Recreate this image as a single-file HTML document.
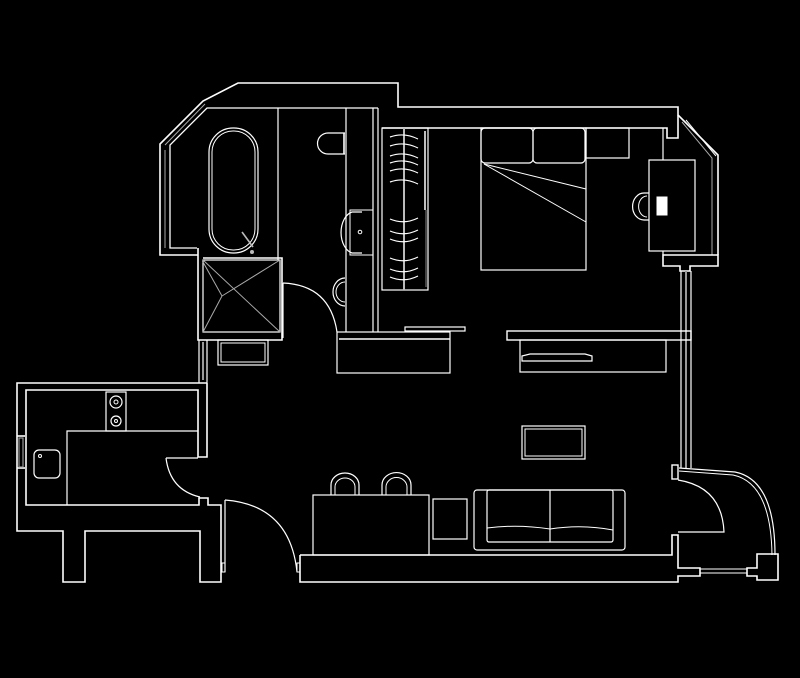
<!DOCTYPE html>
<html><head><meta charset="utf-8"><style>
html,body{margin:0;padding:0;background:#000;}
svg{display:block}
</style></head><body>
<svg width="800" height="678" viewBox="0 0 800 678" xmlns="http://www.w3.org/2000/svg" fill="none" stroke="#fff" stroke-width="1.6">
<rect width="800" height="678" fill="#000" stroke="none"/>
<!-- top outer wall -->
<polyline points="198,255 160,255 160,144 203,101 238,83 398,83 398,107 678,107 678,115 718,155 718,255"/>
<polyline points="197,248 170,248 170,145 207,108 378,108" stroke-width="1.3"/>
<polyline points="165,145 205,104" stroke="#aaa" stroke-width="1"/>
<line x1="165" y1="150" x2="165" y2="248" stroke="#aaa" stroke-width="1"/>
<polyline points="382,128 667,128 667,138 678,138 678,115"/>
<polyline points="682,122 712,158 712,255" stroke="#aaa" stroke-width="1"/>
<polyline points="686,120 716,156" stroke-width="1"/>
<!-- window ledge right -->
<polygon points="663,255 718,255 718,266 690,266 690,271 680,271 680,266 663,266"/>
<!-- right wall vertical -->
<line x1="681" y1="271" x2="681" y2="468" stroke-width="1.2"/>
<line x1="691" y1="271" x2="691" y2="468" stroke-width="1.2"/>
<line x1="686" y1="271" x2="686" y2="468" stroke="#999" stroke-width="2"/>
<!-- tub -->
<rect x="209" y="128" width="49" height="125" rx="24" stroke-width="1.2"/>
<rect x="212" y="131" width="43" height="119" rx="21" stroke-width="1"/>
<line x1="242" y1="232" x2="253" y2="247" stroke="#bbb"/>
<circle cx="252" cy="252" r="2" fill="#bbb" stroke="none"/>
<line x1="278" y1="108" x2="278" y2="260" stroke-width="1.2"/>
<!-- shower -->
<polyline points="198,248 198,340 282,340 282,258 203,258"/>
<rect x="203" y="260" width="77" height="72" stroke-width="1.2"/>
<line x1="203" y1="260" x2="280" y2="332" stroke="#aaa" stroke-width="1"/>
<line x1="222" y1="296" x2="280" y2="260" stroke="#aaa" stroke-width="1"/>
<line x1="222" y1="296" x2="203" y2="332" stroke="#aaa" stroke-width="1"/>
<line x1="222" y1="296" x2="203" y2="262" stroke="#aaa" stroke-width="1"/>
<!-- box under shower -->
<rect x="218" y="340" width="50" height="25" stroke-width="1.2"/>
<rect x="221" y="343" width="44" height="19" stroke-width="1"/>
<line x1="199" y1="340" x2="199" y2="383" stroke-width="1.2"/>
<line x1="207" y1="340" x2="207" y2="383" stroke-width="1.2"/>
<line x1="203" y1="342" x2="203" y2="380" stroke="#999" stroke-width="2"/>
<!-- bathroom door -->
<line x1="283" y1="283" x2="283" y2="338" stroke-width="1.2"/>
<path d="M283,283 Q330,285 337,332" stroke-width="1.2"/>
<!-- wc wall -->
<line x1="346" y1="108" x2="346" y2="332" stroke-width="1.2"/>
<line x1="373" y1="108" x2="373" y2="332" stroke-width="1.2"/>
<line x1="378" y1="108" x2="378" y2="332" stroke-width="1.2"/>
<path d="M345,133 L328,133 A10,10 0 0 0 328,154 L345,154" stroke-width="1.2"/>
<line x1="344" y1="133" x2="344" y2="154"/>
<rect x="350" y="210" width="23" height="45" stroke-width="1"/>
<path d="M362,212 L352,212 A14,21 0 0 0 352,253 L362,253" stroke-width="1.2"/>
<circle cx="360" cy="232" r="1.8" stroke-width="1"/>
<path d="M345,278 A12,14 0 0 0 345,306" stroke-width="1.2"/>
<path d="M345,282 A9,10 0 0 0 345,302" stroke-width="1"/>
<!-- wardrobe -->
<rect x="382" y="128" width="46" height="162" stroke-width="1.2"/>
<line x1="404" y1="128" x2="404" y2="290" stroke="#bbb" stroke-width="2"/>
<line x1="425" y1="131" x2="425" y2="210" stroke-width="1.5"/>
<line x1="426" y1="210" x2="426" y2="287" stroke="#888" stroke-width="1"/>
<g stroke-width="1.2">
<path d="M390,137 Q404,132 418,139"/><path d="M390,146 Q404,141 418,148"/>
<path d="M390,156 Q404,151 418,158"/><path d="M390,163 Q404,158 418,165"/>
<path d="M390,171 Q404,166 418,173"/><path d="M390,182 Q404,177 418,184"/>
<path d="M390,219 Q404,225 418,218"/><path d="M390,231 Q404,237 418,230"/>
<path d="M390,239 Q404,245 418,238"/><path d="M390,258 Q404,264 418,257"/>
<path d="M390,269 Q404,275 418,268"/><path d="M390,277 Q404,283 418,276"/>
</g>
<!-- counter -->
<rect x="337" y="332" width="113" height="41" stroke-width="1.2"/>
<line x1="339" y1="339" x2="450" y2="339" stroke-width="1.4"/>
<rect x="405" y="327" width="60" height="4" stroke-width="1.2"/>
<!-- bed -->
<rect x="481" y="128" width="105" height="142" stroke-width="1.2"/>
<rect x="481" y="128" width="52" height="35" rx="4" stroke-width="1.2"/>
<rect x="533" y="128" width="52" height="35" rx="4" stroke-width="1.2"/>
<rect x="586" y="128" width="43" height="30" stroke-width="1.2"/>
<line x1="484" y1="164" x2="586" y2="189" stroke-width="1"/>
<line x1="484" y1="164" x2="586" y2="222" stroke-width="1"/>
<line x1="663" y1="128" x2="663" y2="160" stroke-width="1.2"/>
<!-- desk -->
<rect x="649" y="160" width="46" height="91" stroke-width="1.2"/>
<path d="M649,193 L644,193 A11,13 0 0 0 644,220 L649,220" stroke-width="1.2"/>
<path d="M647,196 A8,10 0 0 0 647,217" stroke-width="1"/>
<rect x="657" y="197" width="10" height="18" fill="#fff" stroke-width="1"/>
<line x1="663" y1="251" x2="663" y2="255" stroke-width="1.2"/>
<!-- tv console -->
<rect x="507" y="331" width="184" height="9" stroke-width="1.4"/>
<rect x="520" y="340" width="146" height="32" stroke-width="1.2"/>
<path d="M522,361 L592,361 L592,356 L585,354 L530,354 L522,356 Z" stroke-width="1.2"/>
<!-- TV / rug -->
<rect x="522" y="426" width="63" height="33" stroke-width="1.2"/>
<rect x="525" y="429" width="57" height="27" stroke-width="1"/>
<!-- kitchen -->
<polyline points="207,383 17,383 17,531 63,531 63,582 85,582 85,531 200,531 200,582 221,582 221,505 208,505 208,498 199,498 199,505 26,505 26,390 198,390 198,457 207,457 207,383"/>
<line x1="17" y1="436" x2="25" y2="436"/><line x1="17" y1="468" x2="25" y2="468"/>
<rect x="19" y="438" width="4" height="29" stroke="#999" stroke-width="1.2"/>
<polyline points="67,505 67,431 198,431" stroke-width="1.2"/>
<rect x="106" y="392" width="20" height="39" stroke-width="1.2"/>
<circle cx="116" cy="402" r="6" stroke-width="1.2"/><circle cx="116" cy="402" r="2" stroke-width="1"/>
<circle cx="116" cy="421" r="5" stroke-width="1.2"/><circle cx="116" cy="421" r="1.5" stroke-width="1"/>
<rect x="34" y="450" width="26" height="28" rx="5" stroke-width="1.2"/>
<circle cx="40" cy="456" r="1.5" stroke-width="1"/>
<!-- kitchen door -->
<line x1="166" y1="458" x2="198" y2="458" stroke-width="1.2"/>
<path d="M166,458 Q170,490 200,497" stroke-width="1.2"/>
<!-- entry door -->
<line x1="225" y1="500" x2="225" y2="572" stroke-width="1.2"/>
<path d="M225,500 Q290,505 297,572" stroke-width="1.2"/>
<rect x="222" y="563" width="3" height="9" stroke-width="1"/>
<rect x="297" y="563" width="3" height="9" stroke-width="1"/>
<!-- bottom wall -->
<polyline points="300,555 672,555 672,535 678,535 678,568 700,568 700,576 678,576 678,582 300,582 300,555"/>
<!-- dining -->
<rect x="313" y="495" width="116" height="60" stroke-width="1.2"/>
<path d="M331,495 L331,485 A14,12 0 0 1 359,485 L359,495" stroke-width="1.2"/>
<path d="M335,495 L335,487 A10,9 0 0 1 355,487 L355,495" stroke-width="1"/>
<path d="M382,495 L382,485 A14,12 0 0 1 411,485 L411,495" stroke-width="1.2"/>
<path d="M386,495 L386,487 A10,9 0 0 1 407,487 L407,495" stroke-width="1"/>
<rect x="433" y="499" width="34" height="40" stroke-width="1.2"/>
<!-- sofa -->
<rect x="474" y="490" width="151" height="60" rx="3" stroke-width="1.2"/>
<rect x="487" y="490" width="126" height="52" rx="2" stroke-width="1.2"/>
<line x1="550" y1="490" x2="550" y2="542" stroke-width="1.2"/>
<path d="M487,528 Q518,524 550,529 Q582,524 613,530" stroke-width="1"/>
<!-- balcony door -->
<rect x="672" y="465" width="6" height="14" stroke-width="1.4"/>
<path d="M679,468 L735,472 Q775,480 775,555" stroke-width="1.2"/>
<path d="M679,471 L733,475 Q771,483 772,555" stroke-width="1"/>
<path d="M678,480 Q722,487 724,532 L678,532" stroke-width="1.2"/>
<polygon points="757,554 778,554 778,580 757,580 757,576 747,576 747,568 757,568"/>
<line x1="700" y1="569" x2="747" y2="569" stroke-width="1"/>
<line x1="700" y1="573" x2="747" y2="573" stroke-width="1"/>
</svg>
</body></html>
